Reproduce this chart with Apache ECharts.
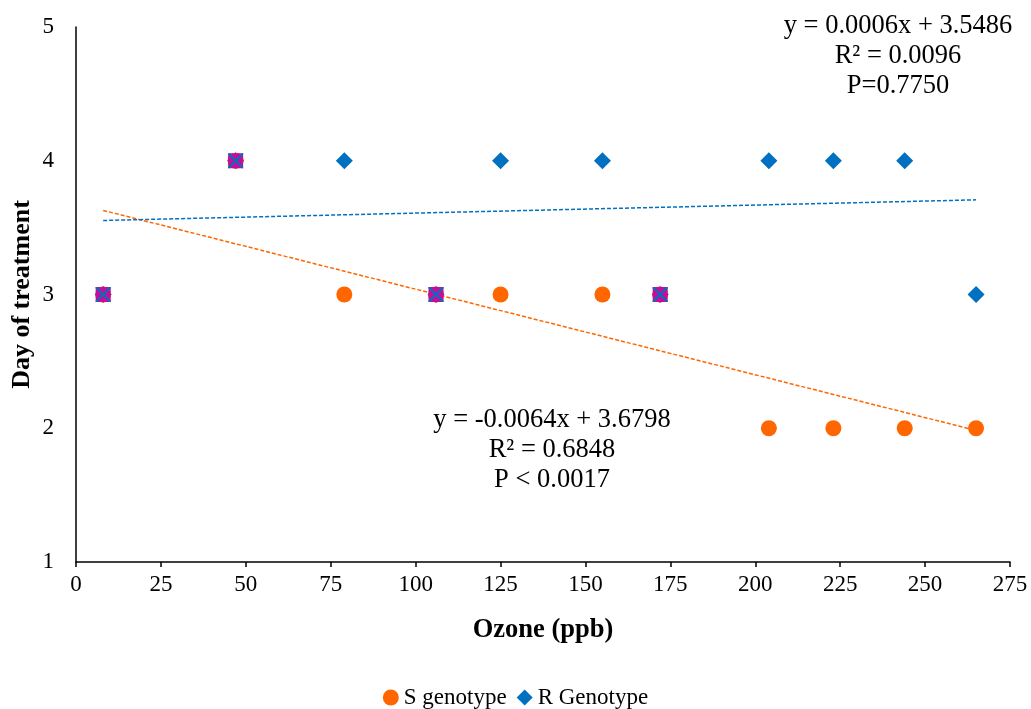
<!DOCTYPE html>
<html lang="en">

<head>
    <meta charset="UTF-8">
    <title>Day of treatment vs Ozone</title>
    <style>
        * {
            margin: 0;
            padding: 0;
            box-sizing: border-box;
        }

        html,
        body {
            height: 100%;
            background: #fff;
        }

        #box {
            width: 1031px;
            height: 709px;
        }
    </style>
    <script src="https://cdn.jsdelivr.net/npm/echarts@6/dist/echarts.min.js"></script>
</head>

<body>
    <div id="box"></div>

    <script>
        // ozone levels (ppb) shared by both genotypes
        var ozone = [8, 47, 79, 106, 125, 155, 172, 204, 223, 244, 265];
        var sDays = [3, 4, 3, 3, 3, 3, 3, 2, 2, 2, 2];
        var rDays = [3, 4, 4, 3, 4, 4, 3, 4, 4, 4, 3];
        var xTicks = [0, 25, 50, 75, 100, 125, 150, 175, 200, 225, 250, 275];
        var yTicks = [1, 2, 3, 4, 5];

        // trendline coefficients (slope, intercept) from the chart labels
        var sFit = [-0.0064, 3.6798];
        var rFit = [0.0006, 3.5486];
        var sLabel = ['y = -0.0064x + 3.6798', 'R² = 0.6848', 'P < 0.0017'];
        var rLabel = ['y = 0.0006x + 3.5486', 'R² = 0.0096', 'P=0.7750'];

        var orange = '#FF6600';
        var blue = '#0070C0';
        var magenta = '#CC0A99';
        var font = '"Liberation Serif", "Times New Roman", serif';

        function pairs(xs, ys) {
            return xs.map(function (x, i) { return [x, ys[i]]; });
        }

        // points where both genotypes sit on top of each other
        var both = [];
        ozone.forEach(function (x, i) {
            if (sDays[i] === rDays[i]) both.push([x, sDays[i]]);
        });

        var xFirst = ozone[0], xLast = ozone[ozone.length - 1];
        function fitLine(f) {
            return [[xFirst, f[0] * xFirst + f[1]], [xLast, f[0] * xLast + f[1]]];
        }

        var xPath = 'path://M0,0L2,0L10,8L18,0L20,0L20,2L12,10L20,18L20,20L18,20L10,12L2,20L0,20L0,18L8,10L0,2Z';

        var myChart = echarts.init(document.getElementById('box'));

        myChart.setOption({
            animation: false,
            backgroundColor: '#fff',
            textStyle: { fontFamily: font, color: '#000' },
            grid: { left: 76, right: 21, top: 27, bottom: 147, outerBoundsMode: 'none' },
            legend: {
                top: 681,
                left: 'center',
                itemWidth: 16,
                itemHeight: 16,
                itemGap: 10,
                textStyle: { fontFamily: font, fontSize: 23, color: '#000' },
                data: [
                    { name: 'S genotype', icon: 'circle' },
                    { name: 'R Genotype', icon: 'diamond' }
                ]
            },
            xAxis: {
                type: 'value',
                min: xTicks[0],
                max: xTicks[xTicks.length - 1],
                interval: 25,
                name: 'Ozone (ppb)',
                nameLocation: 'middle',
                nameGap: 55,
                nameMoveOverlap: false,
                nameTextStyle: { fontFamily: font, fontSize: 26.5, fontWeight: 'bold', color: '#000' },
                axisLine: { lineStyle: { color: '#000', width: 1.5 } },
                axisTick: { show: true, length: 5, lineStyle: { color: '#000', width: 1.5 } },
                axisLabel: { fontFamily: font, fontSize: 23, color: '#000', margin: 11 },
                splitLine: { show: false }
            },
            yAxis: {
                type: 'value',
                min: yTicks[0],
                max: yTicks[yTicks.length - 1],
                interval: 1,
                name: 'Day of treatment',
                nameLocation: 'middle',
                nameGap: 41,
                nameMoveOverlap: false,
                nameTextStyle: { fontFamily: font, fontSize: 26, fontWeight: 'bold', color: '#000' },
                axisLine: { show: true, lineStyle: { color: '#000', width: 1.5 } },
                axisTick: { show: false },
                axisLabel: { fontFamily: font, fontSize: 23, color: '#000', margin: 22 },
                splitLine: { show: false }
            },
            series: [
                {
                    name: 'S genotype',
                    type: 'scatter',
                    symbol: 'circle',
                    symbolSize: 16,
                    itemStyle: { color: orange, opacity: 1 },
                    data: pairs(ozone, sDays),
                    z: 3
                },
                {
                    name: 'R Genotype',
                    type: 'scatter',
                    symbol: 'diamond',
                    symbolSize: 17,
                    itemStyle: { color: blue, opacity: 1 },
                    data: pairs(ozone, rDays),
                    z: 4
                },
                {
                    name: 'both',
                    type: 'scatter',
                    symbol: 'rect',
                    symbolSize: 15,
                    itemStyle: { color: magenta, opacity: 1 },
                    data: both,
                    z: 5
                },
                {
                    name: 'bothX',
                    type: 'scatter',
                    symbol: xPath,
                    symbolSize: 15,
                    itemStyle: { color: blue, opacity: 1 },
                    data: both,
                    z: 6
                },
                {
                    name: 'S trend',
                    type: 'line',
                    symbol: 'none',
                    data: fitLine(sFit),
                    lineStyle: { color: orange, width: 1.5, type: [4, 2] },
                    z: 2
                },
                {
                    name: 'R trend',
                    type: 'line',
                    symbol: 'none',
                    data: fitLine(rFit),
                    lineStyle: { color: blue, width: 1.5, type: [4, 2] },
                    z: 2
                }
            ],
            graphic: [
                {
                    type: 'text',
                    x: 898,
                    y: 11,
                    style: {
                        text: rLabel.join('\n'),
                        align: 'center',
                        fontFamily: font,
                        fontSize: 26.5,
                        lineHeight: 30,
                        fill: '#000'
                    }
                },
                {
                    type: 'text',
                    x: 552,
                    y: 405,
                    style: {
                        text: sLabel.join('\n'),
                        align: 'center',
                        fontFamily: font,
                        fontSize: 26.5,
                        lineHeight: 30,
                        fill: '#000'
                    }
                }
            ]
        });

        window.onresize = function () {
            myChart.resize();
        }
    </script>
</body>

</html>
